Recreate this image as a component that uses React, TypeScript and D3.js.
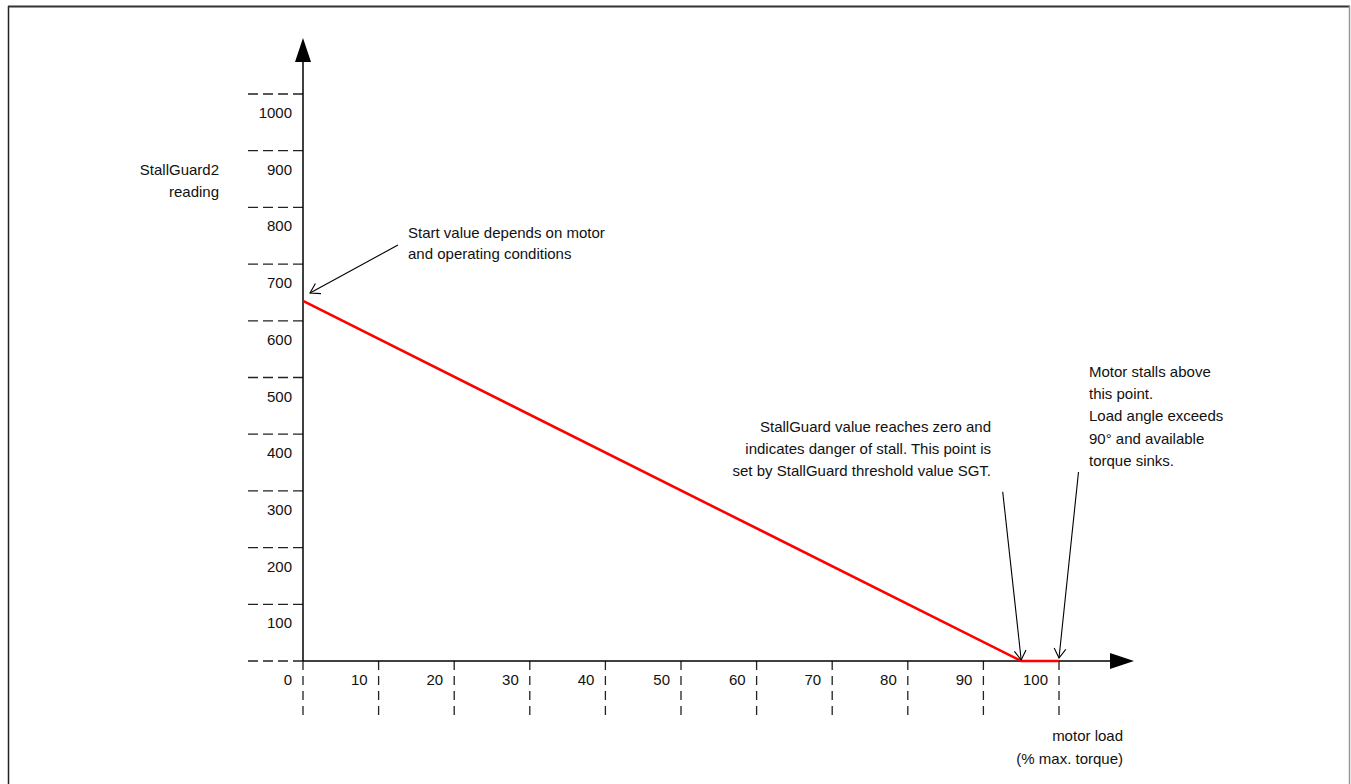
import React from "react";
import * as d3 from "d3";

// ---- data ----
const xTickValues = [0, 10, 20, 30, 40, 50, 60, 70, 80, 90, 100];
const yTickValues = [100, 200, 300, 400, 500, 600, 700, 800, 900, 1000];
const yDashValues = [0, 100, 200, 300, 400, 500, 600, 700, 800, 900, 1000];
const curveLoad = [0, 95, 100];
const curveReading = [635, 0, 0];
const yAxisTitle = ["StallGuard2", "reading"];
const xAxisTitle = ["motor load", "(% max. torque)"];
const noteStart = ["Start value depends on motor", "and operating conditions"];
const noteZero = [
  "StallGuard value reaches zero and",
  "indicates danger of stall. This point is",
  "set by StallGuard threshold value SGT.",
];
const noteStall = [
  "Motor stalls above",
  "this point.",
  "Load angle exceeds",
  "90° and available",
  "torque sinks.",
];

const W = 1351;
const H = 784;
const FONT = "'Liberation Sans', Arial, sans-serif";
const FS = 15;

function OpenArrow({ x1, y1, x2, y2 }: { x1: number; y1: number; x2: number; y2: number }) {
  const ang = Math.atan2(y2 - y1, x2 - x1);
  const len = 11;
  const spread = (32 * Math.PI) / 180;
  const a1 = ang + Math.PI - spread;
  const a2 = ang + Math.PI + spread;
  const p1 = [x2 + len * Math.cos(a1), y2 + len * Math.sin(a1)];
  const p2 = [x2 + len * Math.cos(a2), y2 + len * Math.sin(a2)];
  return (
    <g stroke="#000" strokeWidth={1.1} fill="none">
      <line x1={x1} y1={y1} x2={x2} y2={y2} />
      <polyline points={`${p1[0]},${p1[1]} ${x2},${y2} ${p2[0]},${p2[1]}`} />
    </g>
  );
}

export default function App() {
  const x = d3.scaleLinear().domain([0, 100]).range([303, 1059]);
  const y = d3.scaleLinear().domain([0, 1000]).range([661, 94]);
  const x0 = x(0);
  const y0 = y(0);

  const pts = curveLoad.map((l, i) => [l, curveReading[i]] as [number, number]);
  const line = d3
    .line<[number, number]>()
    .x((d) => x(d[0]))
    .y((d) => y(d[1]));

  const yTop = 38;
  const xRight = 1134;

  return (
    <svg
      width={W}
      height={H}
      style={{ position: "absolute", left: 0, top: 0, background: "#fff" }}
      fontFamily={FONT}
      fontSize={FS}
    >
      {/* frame */}
      <line x1={8.5} y1={6} x2={8.5} y2={H} stroke="#222" strokeWidth={1.5} />
      <line x1={8} y1={6.5} x2={1350} y2={6.5} stroke="#333" strokeWidth={2} />
      <line x1={1349.5} y1={6} x2={1349.5} y2={H} stroke="#999" strokeWidth={1.5} />

      {/* y dashed ticks */}
      {yDashValues.map((v) => (
        <line
          key={"yd" + v}
          x1={x0}
          x2={246}
          y1={y(v)}
          y2={y(v)}
          stroke="#222"
          strokeWidth={1.3}
          strokeDasharray="10,5"
        />
      ))}
      {/* x dashed ticks */}
      {xTickValues.map((v) => (
        <line
          key={"xd" + v}
          x1={x(v)}
          x2={x(v)}
          y1={y0}
          y2={718}
          stroke="#222"
          strokeWidth={1.3}
          strokeDasharray="9,6"
        />
      ))}

      {/* y tick labels */}
      {yTickValues.map((v) => (
        <text key={"yl" + v} x={x0 - 11} y={y(v) + 24} textAnchor="end" fill="#111">
          {v}
        </text>
      ))}
      {/* x tick labels */}
      {xTickValues.map((v) => (
        <text key={"xl" + v} x={x(v) - 11} y={685} textAnchor="end" fill="#111">
          {v}
        </text>
      ))}

      {/* axes */}
      <line x1={x0} y1={y0} x2={x0} y2={yTop + 22} stroke="#000" strokeWidth={1.5} />
      <polygon
        points={`${x0},${yTop} ${x0 - 8},${yTop + 24} ${x0 + 8},${yTop + 24}`}
        fill="#000"
      />
      <line x1={x0} y1={y0} x2={xRight - 22} y2={y0} stroke="#000" strokeWidth={1.5} />
      <polygon
        points={`${xRight},${y0} ${xRight - 24},${y0 - 8} ${xRight - 24},${y0 + 8}`}
        fill="#000"
      />

      {/* axis titles */}
      <text x={219} textAnchor="end" fill="#111">
        {yAxisTitle.map((t, i) => (
          <tspan key={i} x={219} y={175 + i * 22}>
            {t}
          </tspan>
        ))}
      </text>
      <text x={1123} textAnchor="end" fill="#111">
        {xAxisTitle.map((t, i) => (
          <tspan key={i} x={1123} y={741 + i * 23}>
            {t}
          </tspan>
        ))}
      </text>

      {/* curve */}
      <path d={line(pts) || ""} fill="none" stroke="#ff0000" strokeWidth={2.6} />

      {/* annotations */}
      <text fill="#111">
        {noteStart.map((t, i) => (
          <tspan key={i} x={408} y={238 + i * 21}>
            {t}
          </tspan>
        ))}
      </text>
      <OpenArrow x1={398} y1={245} x2={310} y2={293} />

      <text fill="#111" textAnchor="end">
        {noteZero.map((t, i) => (
          <tspan key={i} x={991} y={432 + i * 22}>
            {t}
          </tspan>
        ))}
      </text>
      <OpenArrow x1={1002.7} y1={491.7} x2={x(95)} y2={y0 - 1} />

      <text fill="#111">
        {noteStall.map((t, i) => (
          <tspan key={i} x={1089} y={377 + i * 22.2}>
            {t}
          </tspan>
        ))}
      </text>
      <OpenArrow x1={1078.5} y1={472} x2={x(100)} y2={y0 - 3} />
    </svg>
  );
}
